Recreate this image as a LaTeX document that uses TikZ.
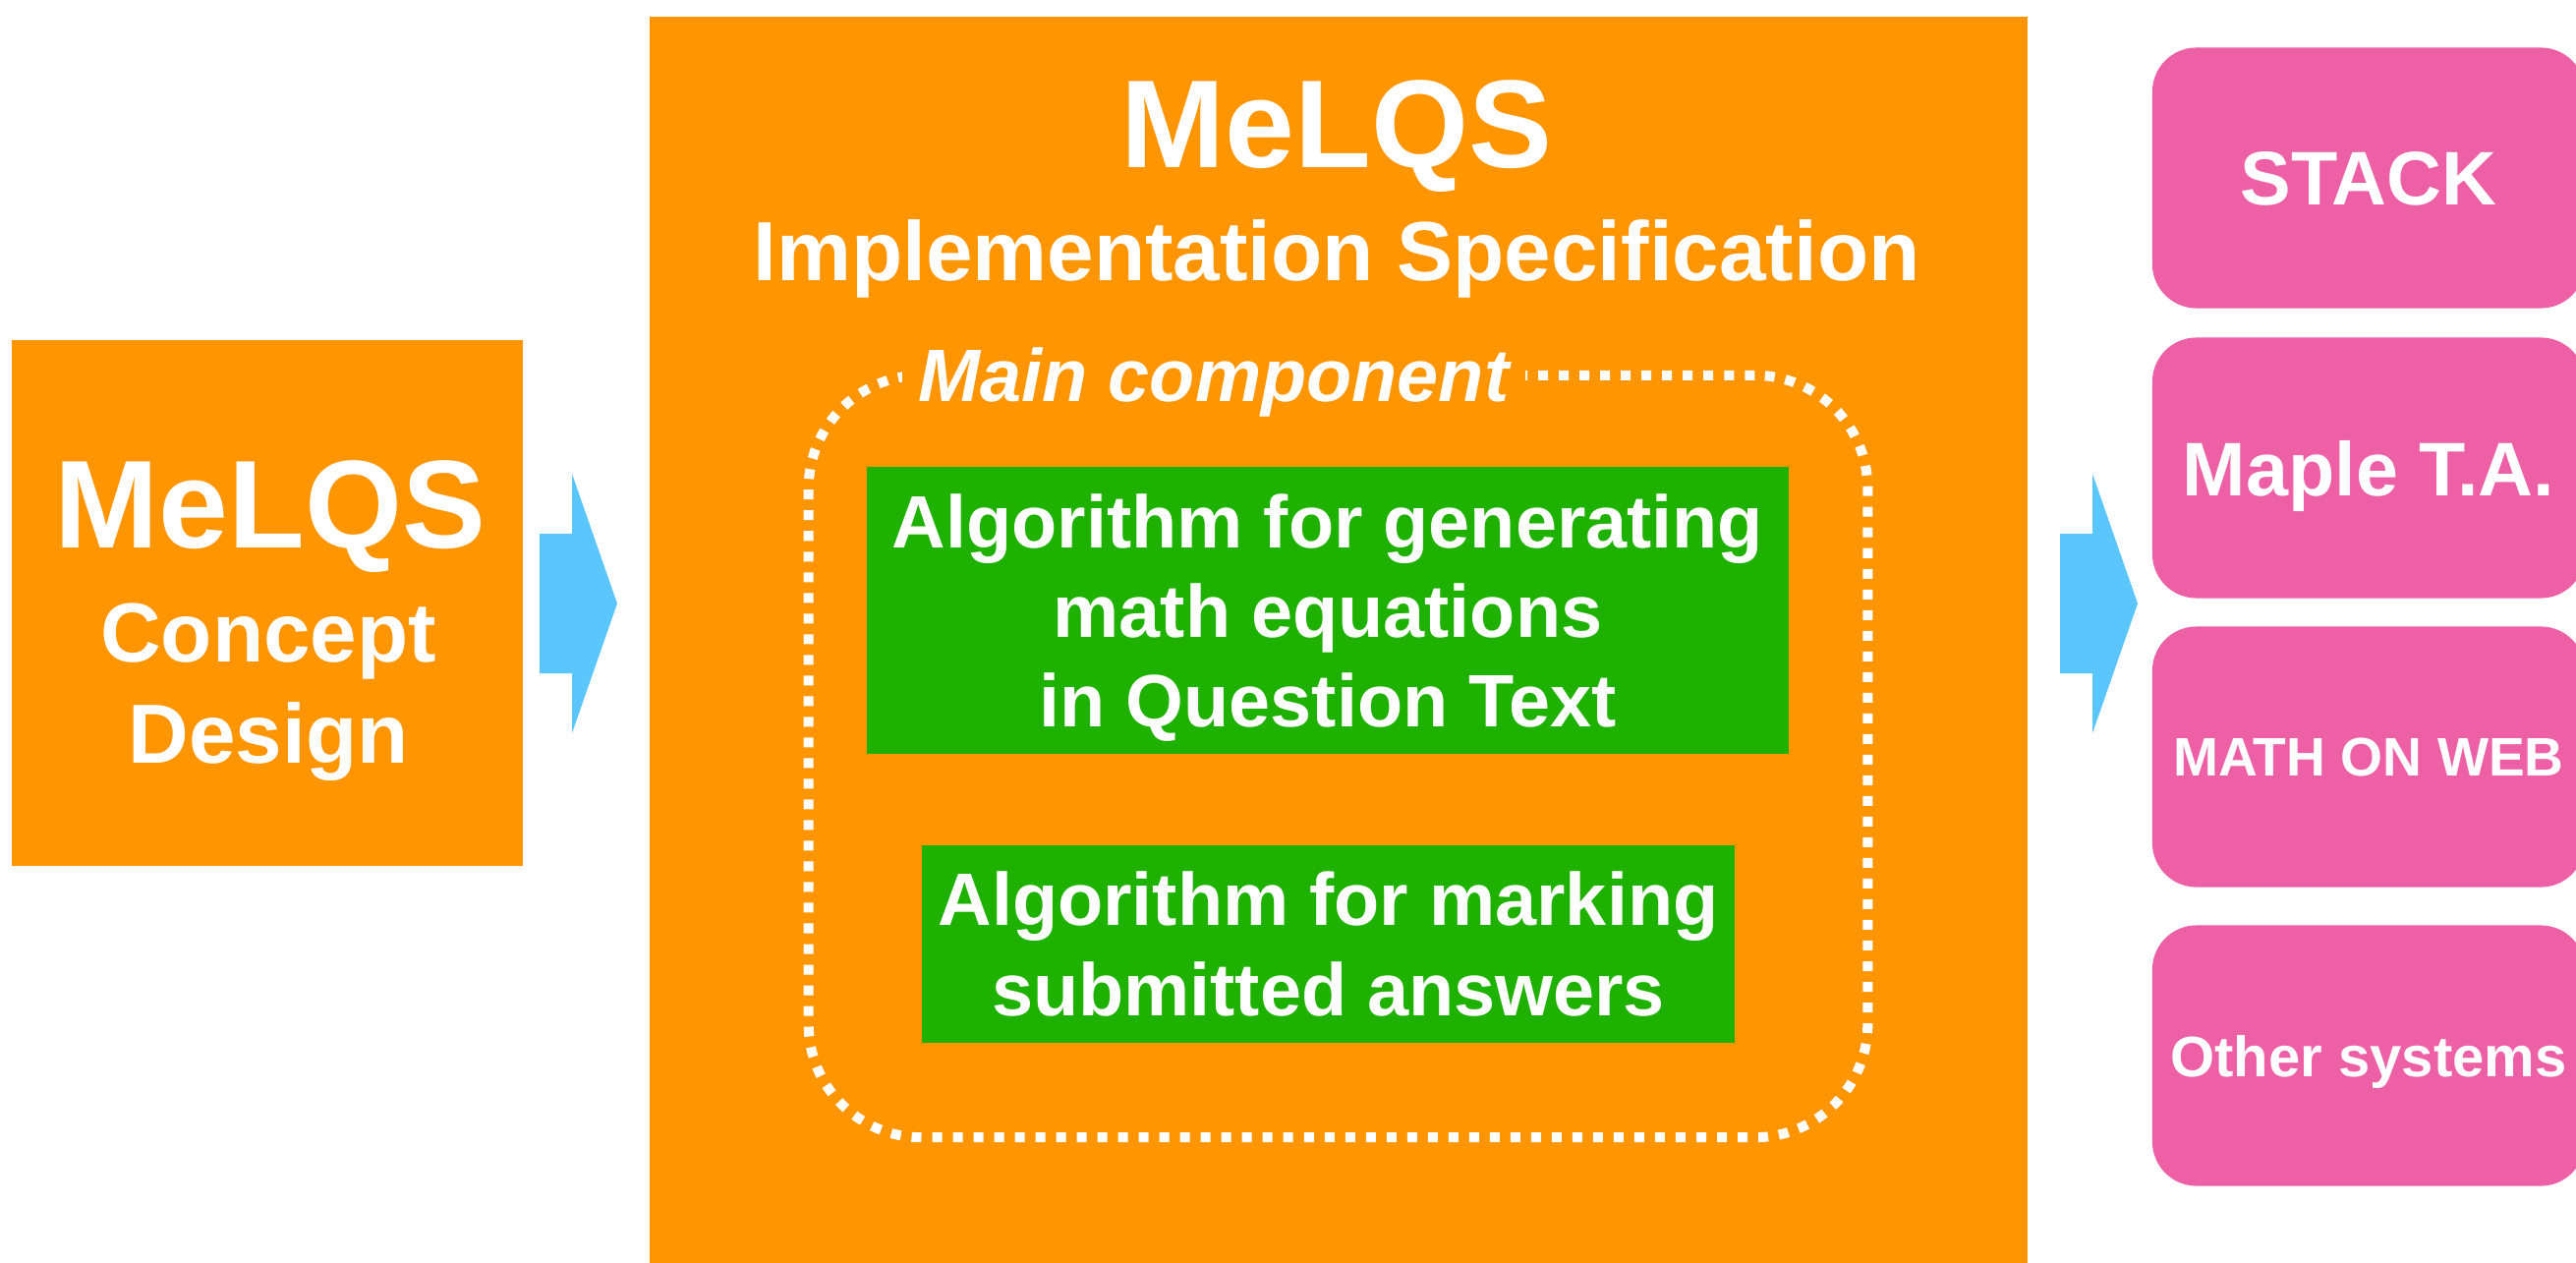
\documentclass[tikz,border=0pt]{standalone}
\usepackage{fontspec}
\setmainfont{Liberation Sans}
\definecolor{mlorange}{RGB}{255,149,0}
\definecolor{mlgreen}{RGB}{31,177,0}
\definecolor{mlpink}{RGB}{238,96,166}
\definecolor{mlblue}{RGB}{90,198,252}
\newcommand\fs[2]{\bfseries\fontsize{#1}{#2}\selectfont}

\begin{document}
\begin{tikzpicture}[x=0.01cm,y=-0.01cm,inner sep=0pt,
  blk/.style={fill=#1,text=white,align=center},
  txt/.style={text=white,anchor=base},
  sys/.style={blk=mlpink,rounded corners=0.45cm,minimum width=4.4cm,minimum height=2.65cm,text depth=0pt},
  dots/.style={draw=white,line width=0.1cm,dash pattern=on 0.1cm off 0.11cm,rounded corners=1.15cm}]
\useasboundingbox (0,0) rectangle (2621,1285);
\node[blk=mlorange,minimum width=5.2cm,minimum height=5.35cm] (concept) at (272,613.5) {};
\node[txt,font=\fs{36.2}{40}] (conceptA) at (275,557) {MeLQS};
\node[txt,font=\fs{24.3}{28}] (conceptB) at (273,673) {Concept};
\node[txt,font=\fs{24.3}{28}] (conceptC) at (273,776) {Design};
\node[blk=mlorange,minimum width=14.02cm,minimum height=12.73cm] (impl) at (1362,653.5) {};
\node[txt,font=\fs{36.2}{40}] (implA) at (1360,171) {MeLQS};
\node[txt,font=\fs{24.3}{28}] (implB) at (1360,285) {Implementation Specification};
\node[dots,minimum width=10.77cm,minimum height=7.75cm] (maincomp) at (1361.5,769.5) {};
\node[txt,fill=mlorange,inner xsep=0.17cm,font=\bfseries\itshape\fontsize{21.5}{24}\selectfont] (mainlbl) at (1235,408) {Main component};
\node[blk=mlgreen,minimum width=9.38cm,minimum height=2.92cm,text depth=0pt,font=\fs{21.5}{25.9}] (gen) at (1351,621) {Algorithm for generating\\math equations\\in Question Text};
\node[blk=mlgreen,minimum width=8.27cm,minimum height=2.01cm,font=\fs{21.5}{25.9}] (mark) at (1351.5,960.5) {Algorithm for marking\\submitted answers};
\foreach \n/\y/\s/\t in {stack/181/22/STACK,maple/476/22/Maple T.A.,mow/770/15.7/MATH ON WEB,other/1074/16.5/Other systems}
\node[sys,font=\fs{\s}{\s}] (\n) at (2410,\y) {\t};
\foreach \x in {549,2096}
\fill[mlblue] (\x,543) -- ++(33,0) -- ++(0,-61) -- ++(46,132) -- ++(-46,132) -- ++(0,-61) -- ++(-33,0) -- cycle;
\end{tikzpicture}
\end{document}
